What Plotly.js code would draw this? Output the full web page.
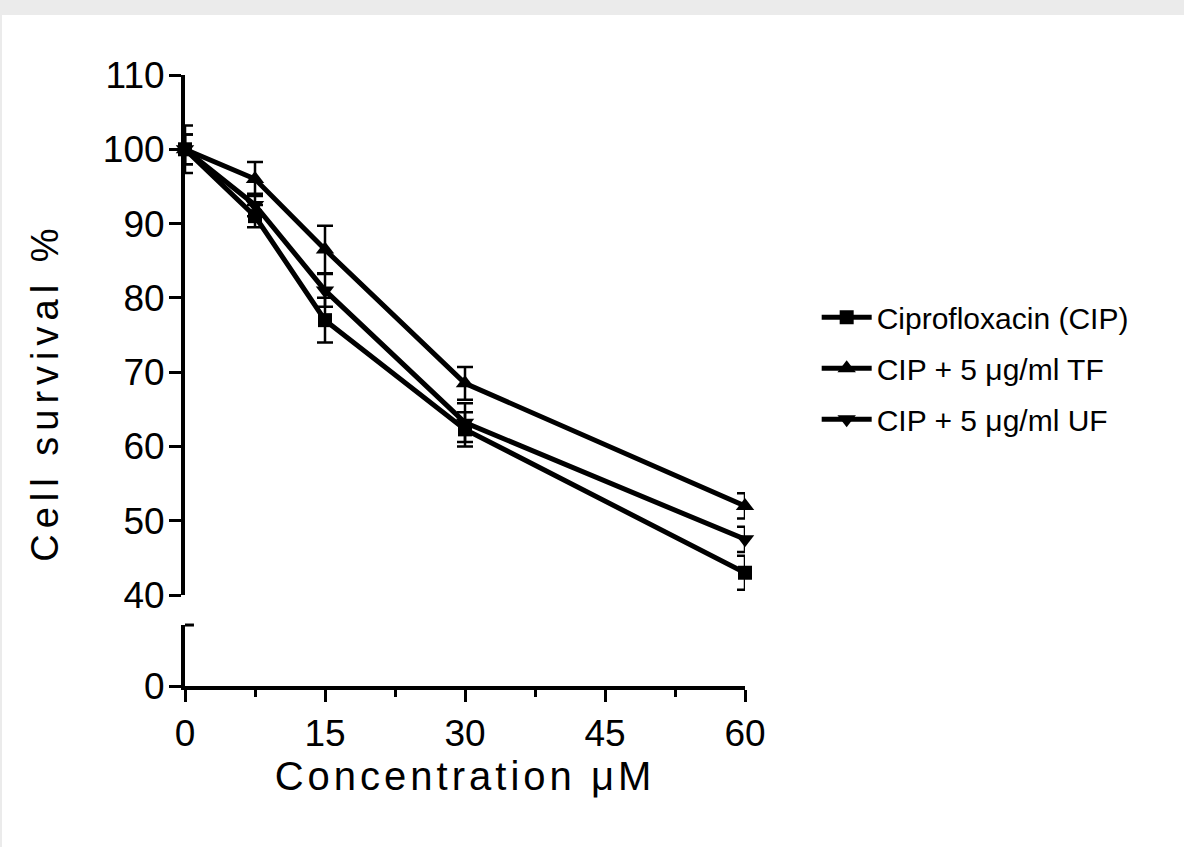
<!DOCTYPE html>
<html>
<head>
<meta charset="utf-8">
<script src="https://cdn.plot.ly/plotly-3.0.1.min.js"></script>
<style>
  html, body { margin: 0; padding: 0; background: #ebebeb; width: 1184px; height: 847px; overflow: hidden; }
  #chart { position: absolute; left: 2px; top: 15px; width: 1182px; height: 832px; background: #fff; }
  .xtitle { letter-spacing: 4px; }
  .annotation-text { letter-spacing: 6px; }
</style>
</head>
<body>
<div id="chart"></div>
<script>
// Concentration (µM)
const concentration = [0, 7.5, 15, 30, 60];

// Cell survival % (mean) and error (SEM)
const cipSurvival = [100, 91, 77, 62.3, 43];
const cipError    = [3.2, 1.5, 3.0, 2.3, 2.3];

const tfSurvival  = [100, 96, 86.5, 68.5, 52];
const tfError     = [2.0, 2.3, 3.2, 2.2, 1.7];

const ufSurvival  = [100, 92.5, 81, 63.2, 47.5];
const ufError     = [2.0, 1.5, 2.2, 2.6, 1.7];

const seriesNames = ['Ciprofloxacin (CIP)', 'CIP + 5 \u03bcg/ml TF', 'CIP + 5 \u03bcg/ml UF'];
const seriesSymbols = ['square', 'triangle-up', 'triangle-down'];

const upperTicks = [40, 50, 60, 70, 80, 90, 100, 110];
const lowerTicks = [0];
const xTicks = [0, 15, 30, 45, 60];

const xTitle = 'Concentration \u03bcM';
const yTitle = 'Cell survival %';

const font = "'Liberation Sans', Arial, Helvetica, sans-serif";

function makeTrace(i, y, err, size) {
  return {
    x: concentration, y: y,
    type: 'scatter', mode: 'lines+markers',
    name: seriesNames[i],
    legendgroup: 'g' + i,
    xaxis: 'x', yaxis: 'y',
    cliponaxis: false,
    line: { color: '#000', width: 5 },
    marker: { symbol: seriesSymbols[i], size: size, color: '#000' },
    error_y: { type: 'data', array: err, visible: true, color: '#000', thickness: 2.5, width: 8 }
  };
}

const data = [
  makeTrace(0, cipSurvival, cipError, 14),
  makeTrace(1, tfSurvival, tfError, 16),
  makeTrace(2, ufSurvival, ufError, 16),
  { x: [], y: [], xaxis: 'x', yaxis: 'y2', type: 'scatter', showlegend: false, hoverinfo: 'skip' }
];

const axisCommon = {
  showline: true, linecolor: '#000', linewidth: 4,
  ticks: 'outside', ticklen: 12, tickwidth: 3, tickcolor: '#000',
  showgrid: false, zeroline: false,
  tickfont: { family: font, size: 37, color: '#000' }
};

const layout = {
  width: 1182, height: 832,
  margin: { l: 183, r: 439, t: 60, b: 161 },
  paper_bgcolor: '#fff', plot_bgcolor: '#fff',
  font: { family: font, color: '#000' },
  showlegend: true,
  legend: {
    x: 1.128, y: 0.52, xanchor: 'left', yanchor: 'middle',
    font: { family: font, size: 30, color: '#000' },
    traceorder: 'grouped', tracegroupgap: 9,
    itemwidth: 50, bgcolor: 'rgba(0,0,0,0)'
  },
  xaxis: Object.assign({}, axisCommon, {
    anchor: 'y2', range: [0, 60], tickvals: xTicks,
    minor: { dtick: 7.5, tick0: 0, ticks: 'outside', ticklen: 7, tickwidth: 3, tickcolor: '#000', showgrid: false },
    title: { text: xTitle, font: { family: font, size: 40, color: '#000' }, standoff: 2 }
  }),
  yaxis: Object.assign({}, axisCommon, {
    anchor: 'x', domain: [0.1489, 1], range: [40, 110], tickvals: upperTicks,
    ticklabelstandoff: -3
  }),
  yaxis2: Object.assign({}, axisCommon, {
    anchor: 'x', domain: [0, 0.0998], range: [0, 8.2], tickvals: lowerTicks,
    ticklabelstandoff: -3
  }),
  annotations: [
    { text: yTitle, xref: 'paper', yref: 'paper', x: -0.25, y: 0.48,
      xanchor: 'center', yanchor: 'middle', textangle: -90, showarrow: false,
      font: { family: font, size: 38, color: '#000' } }
  ],
  shapes: [
    { type: 'line', xref: 'x domain', yref: 'y2 domain', x0: 0, x1: 0.016, y0: 1, y1: 1,
      line: { color: '#000', width: 3 } }
  ]
};

Plotly.newPlot('chart', data, layout, { displayModeBar: false, staticPlot: true });
</script>
</body>
</html>
